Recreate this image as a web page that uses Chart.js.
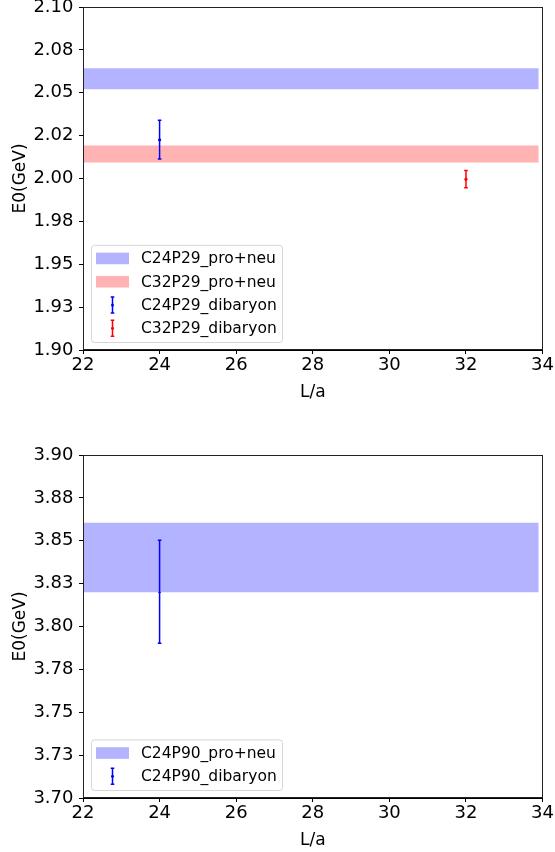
<!DOCTYPE html>
<html>
<head>
<meta charset="utf-8">
<script src="https://cdn.jsdelivr.net/npm/chart.js"></script>
<style>
  html, body { margin: 0; padding: 0; background: #fff; }
  #wrap { position: relative; width: 555px; height: 852px; overflow: hidden; }
  #wrap canvas { position: absolute; left: 0; }
</style>
</head>
<body>
<div id="wrap">
  <canvas id="top" width="555" height="446" style="top:-20px"></canvas>
  <canvas id="bottom" width="555" height="426" style="top:426px"></canvas>
</div>
<script>
// ─── DADOS ───
var X_TICKS = [22, 24, 26, 28, 30, 32, 34];
var BAND_X = [22, 33.9];

// painel de cima (P29)
var P29_Y_TICKS = [1.9, 1.925, 1.95, 1.975, 2.0, 2.025, 2.05, 2.075, 2.1];
var P29_Y_LABELS = ['1.90', '1.93', '1.95', '1.98', '2.00', '2.02', '2.05', '2.08', '2.10'];
var P29_BAND_NAMES = ['C24P29_pro+neu', 'C32P29_pro+neu'];
var P29_BAND_LO = [2.052, 2.0094];
var P29_BAND_HI = [2.0643, 2.0193];
var P29_PT_NAMES = ['C24P29_dibaryon', 'C32P29_dibaryon'];
var P29_PT_X = [24, 32];
var P29_PT_Y = [2.0226, 1.9996];
var P29_PT_ERR = [0.0113, 0.0050];

// painel de baixo (P90)
var P90_Y_TICKS = [3.7, 3.725, 3.75, 3.775, 3.8, 3.825, 3.85, 3.875, 3.9];
var P90_Y_LABELS = ['3.70', '3.73', '3.75', '3.78', '3.80', '3.83', '3.85', '3.88', '3.90'];
var P90_BAND_NAMES = ['C24P90_pro+neu'];
var P90_BAND_LO = [3.820];
var P90_BAND_HI = [3.8605];
var P90_PT_NAMES = ['C24P90_dibaryon'];
var P90_PT_X = [24];
var P90_PT_Y = [3.8203];
var P90_PT_ERR = [0.0300];

var BAND_CORES = ['#b3b3ff', '#ffb3b3'];
var PT_CORES = ['#0000ff', '#ff0000'];
var FONTE = 'DejaVu Sans';

// ─── barras de erro ───
var errorBarsPlugin = {
  id: 'errorBars',
  afterDatasetsDraw: function(chart) {
    var ctx = chart.ctx, xs = chart.scales.x, ys = chart.scales.y;
    chart.data.datasets.forEach(function(ds) {
      if (ds.kind !== 'err') return;
      ctx.save();
      ctx.strokeStyle = ds.borderColor;
      ctx.lineWidth = 1.5;
      ds.data.forEach(function(p, i) {
        var px = xs.getPixelForValue(p.x);
        var y1 = ys.getPixelForValue(p.y + ds.err[i]);
        var y2 = ys.getPixelForValue(p.y - ds.err[i]);
        ctx.beginPath();
        ctx.moveTo(px, y1); ctx.lineTo(px, y2);
        ctx.moveTo(px - 1.8, y1); ctx.lineTo(px + 1.8, y1);
        ctx.moveTo(px - 1.8, y2); ctx.lineTo(px + 1.8, y2);
        ctx.stroke();
      });
      ctx.restore();
    });
  }
};

// moldura completa (estilo matplotlib)
var framePlugin = {
  id: 'frame',
  afterDraw: function(chart) {
    var a = chart.chartArea, ctx = chart.ctx;
    ctx.save();
    ctx.strokeStyle = '#222';
    ctx.lineWidth = 1;
    ctx.strokeRect(Math.round(a.left) + 0.5, Math.round(a.top) + 0.5,
      Math.round(a.right - a.left) - 1, Math.round(a.bottom - a.top) - 1);
    ctx.restore();
  }
};

// legenda dentro do gráfico, canto inferior esquerdo
var legendPlugin = {
  id: 'innerLegend',
  afterDraw: function(chart) {
    var ctx = chart.ctx, a = chart.chartArea;
    var itens = chart.data.datasets.filter(function(ds) { return ds.legenda; });
    var rowH = 23.3;
    var w = 191, h = rowH * itens.length + 4;
    var left = a.left + 8, top = a.bottom - 8 - h;
    ctx.save();
    ctx.beginPath();
    ctx.roundRect(left + 0.5, top + 0.5, w, h, 3);
    ctx.fillStyle = 'rgba(255,255,255,0.8)';
    ctx.fill();
    ctx.strokeStyle = '#d6d6d6';
    ctx.lineWidth = 1;
    ctx.stroke();
    ctx.font = '15.5px "' + FONTE + '"';
    ctx.textBaseline = 'middle';
    ctx.textAlign = 'left';
    itens.forEach(function(ds, i) {
      var cy = top + 2 + rowH * (i + 0.5);
      if (ds.kind === 'band') {
        ctx.fillStyle = ds.backgroundColor;
        ctx.fillRect(left + 5, cy - 5.8, 33, 11.6);
      } else {
        var cx = left + 21.5;
        ctx.strokeStyle = ds.borderColor;
        ctx.lineWidth = 1.5;
        ctx.beginPath();
        ctx.moveTo(cx, cy - 8); ctx.lineTo(cx, cy + 8);
        ctx.moveTo(cx - 1.8, cy - 8); ctx.lineTo(cx + 1.8, cy - 8);
        ctx.moveTo(cx - 1.8, cy + 8); ctx.lineTo(cx + 1.8, cy + 8);
        ctx.stroke();
        ctx.fillStyle = ds.borderColor;
        ctx.beginPath();
        ctx.arc(cx, cy, 1.5, 0, Math.PI * 2);
        ctx.fill();
      }
      ctx.fillStyle = '#000';
      ctx.fillText(ds.legenda, left + 50, cy + 1);
    });
    ctx.restore();
  }
};

function montarDatasets(bandNomes, lo, hi, ptNomes, px, py, perr) {
  var datasets = [];
  bandNomes.forEach(function(nome, i) {
    datasets.push({
      kind: 'bandLo',
      data: BAND_X.map(function(x) { return { x: x, y: lo[i] }; }),
      showLine: true, borderWidth: 0, pointRadius: 0, fill: false
    });
    datasets.push({
      kind: 'band', legenda: nome,
      data: BAND_X.map(function(x) { return { x: x, y: hi[i] }; }),
      showLine: true, borderWidth: 0, pointRadius: 0,
      backgroundColor: BAND_CORES[i], fill: '-1'
    });
  });
  ptNomes.forEach(function(nome, i) {
    datasets.push({
      kind: 'err', legenda: nome,
      data: [{ x: px[i], y: py[i] }],
      err: [perr[i]],
      borderColor: PT_CORES[i],
      backgroundColor: PT_CORES[i],
      pointRadius: 1.6, pointBorderWidth: 0, showLine: false
    });
  });
  return datasets;
}

function criarGrafico(id, datasets, yTicks, yLabels, padTop, xAltura, tituloPad) {
  var fonteTick = { family: FONTE, size: 18 };
  var fonteTitulo = { family: FONTE, size: 17 };
  return new Chart(document.getElementById(id), {
    type: 'scatter',
    data: { datasets: datasets },
    plugins: [errorBarsPlugin, framePlugin, legendPlugin],
    options: {
      responsive: false,
      devicePixelRatio: 1,
      animation: false,
      layout: { padding: { top: padTop, right: 12, left: 0, bottom: 0 } },
      plugins: { legend: { display: false }, tooltip: { enabled: false } },
      scales: {
        x: {
          type: 'linear', min: 22, max: 34,
          afterBuildTicks: function(s) { s.ticks = X_TICKS.map(function(v) { return { value: v }; }); },
          afterFit: function(s) { s.height = xAltura; },
          ticks: { font: fonteTick, color: '#000', padding: 1, maxRotation: 0,
            callback: function(v) { return String(v); } },
          grid: { drawOnChartArea: false, drawTicks: true, tickLength: 4, color: '#000' },
          border: { color: '#000' },
          title: { display: true, text: 'L/a', font: fonteTitulo, color: '#000',
            padding: { top: 0, bottom: tituloPad } }
        },
        y: {
          type: 'linear', min: yTicks[0], max: yTicks[yTicks.length - 1],
          afterBuildTicks: function(s) { s.ticks = yTicks.map(function(v) { return { value: v }; }); },
          afterFit: function(s) { s.width = 83; },
          ticks: { font: fonteTick, color: '#000', padding: 5.5,
            callback: function(v, i) { return yLabels[i]; } },
          grid: { drawOnChartArea: false, drawTicks: true, tickLength: 4, color: '#000' },
          border: { color: '#000' },
          title: { display: true, text: 'E0(GeV)', font: fonteTitulo, color: '#000',
            padding: { top: 10.8, bottom: 0 } }
        }
      }
    }
  });
}

criarGrafico('top',
  montarDatasets(P29_BAND_NAMES, P29_BAND_LO, P29_BAND_HI, P29_PT_NAMES, P29_PT_X, P29_PT_Y, P29_PT_ERR),
  P29_Y_TICKS, P29_Y_LABELS, 27, 76, 23.3);

criarGrafico('bottom',
  montarDatasets(P90_BAND_NAMES, P90_BAND_LO, P90_BAND_HI, P90_PT_NAMES, P90_PT_X, P90_PT_Y, P90_PT_ERR),
  P90_Y_TICKS, P90_Y_LABELS, 29, 54, 1.3);
</script>
</body>
</html>
